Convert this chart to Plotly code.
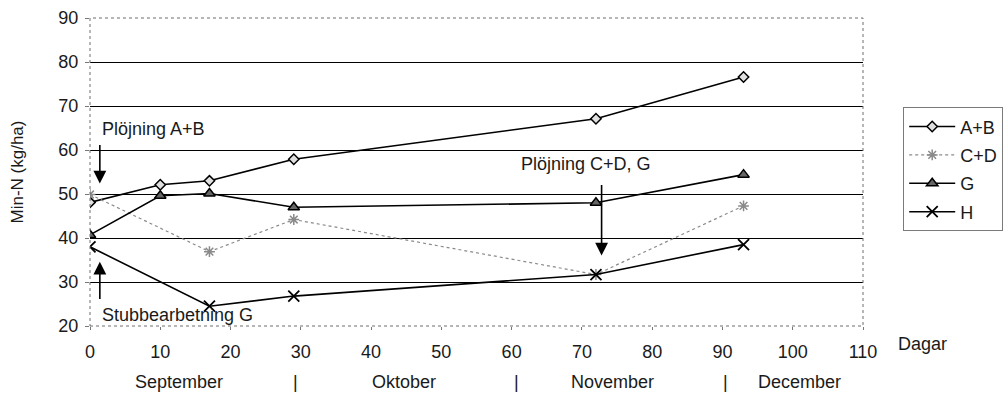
import plotly.graph_objects as go

# Sampling days after the first measurement
days = [0, 10, 17, 29, 72, 93]

# Mineral N (kg/ha) per treatment; None = not sampled that day
ab = [48.1, 52.1, 53.0, 57.9, 67.1, 76.6]
cd = [49.9, None, 36.9, 44.2, 31.7, 47.3]
g = [40.7, 49.6, 50.1, 47.0, 48.0, 54.4]
h = [38.0, None, 24.5, 26.8, 31.7, 38.5]

series_names = ["A+B", "C+D", "G", "H"]

x_ticks = [0, 10, 20, 30, 40, 50, 60, 70, 80, 90, 100, 110]
y_ticks = [20, 30, 40, 50, 60, 70, 80, 90]

# Month labels and the separators between months (in days)
month_names = ["September", "Oktober", "November", "December"]
month_centers = [12.6, 44.7, 74.4, 101.0]
month_bounds = [29.2, 60.7, 90.4]

FONT = "Liberation Sans, Arial, sans-serif"
INK = "#1a1a1a"

fig = go.Figure()

fig.add_trace(go.Scatter(
    x=days, y=ab, name=series_names[0], mode="lines+markers",
    line=dict(color="black", width=1.6),
    marker=dict(symbol="diamond", size=8, color="#e0e0e0",
                line=dict(color="black", width=1.5)),
    legendgroup="ab",
))
fig.add_trace(go.Scatter(
    x=days, y=cd, name=series_names[1], mode="lines+markers", connectgaps=True,
    line=dict(color="#8a8a8a", width=1.2, dash="dot"),
    marker=dict(symbol="asterisk-open", size=9,
                line=dict(color="#9a9a9a", width=1.5)),
    legendgroup="cd",
))
fig.add_trace(go.Scatter(
    x=days, y=g, name=series_names[2], mode="lines+markers",
    line=dict(color="black", width=1.6),
    marker=dict(symbol="triangle-up", size=10, color="#666666",
                line=dict(color="black", width=1.5)),
    legendgroup="g",
))
fig.add_trace(go.Scatter(
    x=days, y=h, name=series_names[3], mode="lines+markers", connectgaps=True,
    line=dict(color="black", width=1.6),
    marker=dict(symbol="x-thin-open", size=11,
                line=dict(color="black", width=1.8)),
    legendgroup="h",
))

annotations = []

# Arrows marking tillage events
arrow_common = dict(xref="x", yref="y", axref="x", ayref="y", text="",
                    showarrow=True, arrowhead=2, arrowsize=1.6,
                    arrowwidth=1.6, arrowcolor="black")
annotations.append(dict(x=1.4, y=52.4, ax=1.4, ay=61.5, **arrow_common))
annotations.append(dict(x=1.4, y=34.6, ax=1.4, ay=25.8, **arrow_common))
annotations.append(dict(x=72.8, y=36.0, ax=72.8, ay=52.4, **arrow_common))

text_common = dict(xref="x", yref="y", showarrow=False, xanchor="left",
                   yanchor="middle", font=dict(family=FONT, size=18, color=INK))
annotations.append(dict(x=1.4, y=64.8, text="Plöjning A+B", **text_common))
annotations.append(dict(x=1.4, y=22.5, text="Stubbearbetning G", **text_common))
annotations.append(dict(x=61.0, y=56.9, text="Plöjning C+D, G", **text_common))

# Axis unit label to the right of the last tick
annotations.append(dict(xref="paper", yref="paper", x=1.077, y=-0.057,
                        text="Dagar", showarrow=False, xanchor="center",
                        yanchor="middle",
                        font=dict(family=FONT, size=18, color=INK)))

# Month row under the day axis
for name, xc in zip(month_names, month_centers):
    annotations.append(dict(xref="x", yref="paper", x=xc, y=-0.182,
                            text=name, showarrow=False, xanchor="center",
                            yanchor="middle",
                            font=dict(family=FONT, size=18, color=INK)))
for xb in month_bounds:
    annotations.append(dict(xref="x", yref="paper", x=xb, y=-0.182,
                            text="|", showarrow=False, xanchor="center",
                            yanchor="middle",
                            font=dict(family=FONT, size=18, color=INK)))

# Dotted frame around the plotting area
shapes = [dict(type="rect", xref="paper", yref="paper", x0=0, y0=0, x1=1, y1=1,
               line=dict(color="#6e6e6e", width=1, dash="dot"), layer="above")]

fig.update_layout(
    width=1004, height=395,
    margin=dict(l=90, r=141, t=18, b=69, autoexpand=False),
    paper_bgcolor="white", plot_bgcolor="white",
    font=dict(family=FONT, size=18, color=INK),
    annotations=annotations,
    shapes=shapes,
    legend=dict(
        x=1.052, y=0.71, xanchor="left", yanchor="top",
        bordercolor="#7a7a7a", borderwidth=1, bgcolor="white",
        font=dict(family=FONT, size=18, color=INK),
        tracegroupgap=2, itemwidth=46,
    ),
    showlegend=True,
)

fig.update_xaxes(
    range=[0, 110], tickvals=x_ticks, ticktext=[str(v) for v in x_ticks],
    showgrid=False, zeroline=False, showline=False,
    ticks="outside", ticklen=3, tickcolor="#777777",
    tickfont=dict(family=FONT, size=18, color=INK),
    ticklabelstandoff=6,
)
fig.update_yaxes(
    range=[20, 90], tickvals=y_ticks, ticktext=[str(v) for v in y_ticks],
    showgrid=True, gridcolor="black", gridwidth=1,
    zeroline=False, showline=False,
    ticks="outside", ticklen=4, tickcolor="#777777",
    tickfont=dict(family=FONT, size=18, color=INK),
    ticklabelstandoff=3,
    title=dict(text="Min-N (kg/ha)", font=dict(family=FONT, size=17, color=INK),
               standoff=30),
)

fig.write_html("out.html")
